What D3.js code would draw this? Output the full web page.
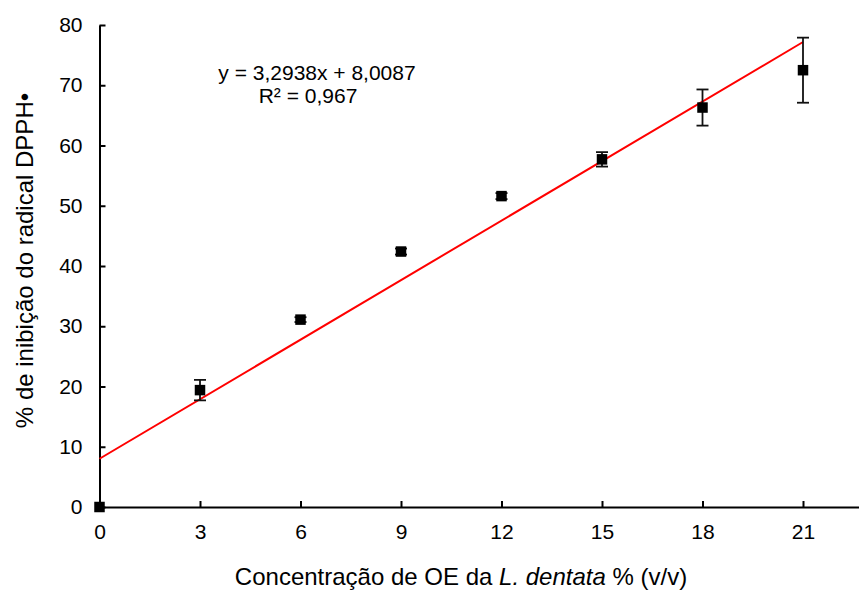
<!DOCTYPE html>
<html>
<head>
<meta charset="utf-8">
<script src="https://cdn.jsdelivr.net/npm/d3@7"></script>
<style>
  html, body { margin: 0; padding: 0; background: #fff; }
  svg { display: block; font-family: "Liberation Sans", Arial, sans-serif; }
</style>
</head>
<body>
<svg id="chart" width="859" height="590"></svg>
<script>
// Concentration of essential oil (% v/v)
const concentrations = [0, 3, 6, 9, 12, 15, 18, 21];
// Mean DPPH radical inhibition (%)
const inhibition = [0, 19.4, 31.1, 42.4, 51.6, 57.7, 66.3, 72.5];
// Standard deviation of each mean
const deviation = [0, 1.7, 0.4, 0.5, 0.5, 1.2, 3.0, 5.4];

const xTicks = [0, 3, 6, 9, 12, 15, 18, 21];
const yTicks = [0, 10, 20, 30, 40, 50, 60, 70, 80];

// Linear regression shown on the chart
const slope = 3.2938;
const intercept = 8.0087;
const equationLabel = "y = 3,2938x + 8,0087";
const r2Label = "R² = 0,967";

const svg = d3.select("#chart");
const font = "Liberation Sans, Arial, sans-serif";

const x = d3.scaleLinear().domain([0, 24]).range([99.5, 903.5]);
const y = d3.scaleLinear().domain([0, 80]).range([507, 25]);

// Y axis
const yAxis = svg.append("g")
  .attr("transform", `translate(${x(0)},0)`)
  .call(d3.axisLeft(y).tickValues(yTicks).tickSizeInner(-6).tickSizeOuter(0).tickPadding(17));
yAxis.select(".domain").attr("stroke", "#000").attr("stroke-width", 2);
yAxis.selectAll(".tick line").attr("stroke", "#000").attr("stroke-width", 2);
yAxis.selectAll(".tick text").attr("font-size", 21).attr("fill", "#000").attr("font-family", font);

// X axis
const xAxis = svg.append("g")
  .attr("transform", `translate(0,${y(0)})`)
  .call(d3.axisBottom(x).tickValues(xTicks).tickSizeInner(-6).tickSizeOuter(0).tickPadding(17));
xAxis.select(".domain").attr("stroke", "#000").attr("stroke-width", 2);
xAxis.selectAll(".tick line").attr("stroke", "#000").attr("stroke-width", 2);
xAxis.selectAll(".tick text").attr("font-size", 21).attr("fill", "#000").attr("font-family", font);

// Trend line
const xStart = d3.min(concentrations), xEnd = d3.max(concentrations);
svg.append("line")
  .attr("x1", x(xStart)).attr("y1", y(intercept + slope * xStart))
  .attr("x2", x(xEnd)).attr("y2", y(intercept + slope * xEnd))
  .attr("stroke", "#ff0000").attr("stroke-width", 2);

// Error bars
const points = concentrations.map((c, i) => ({ c, v: inhibition[i], sd: deviation[i] }));
const bars = svg.append("g").attr("stroke", "#111").attr("stroke-width", 1.8);
points.filter(d => d.sd > 0).forEach(d => {
  bars.append("line")
    .attr("x1", x(d.c)).attr("x2", x(d.c))
    .attr("y1", y(d.v - d.sd)).attr("y2", y(d.v + d.sd));
  [d.v - d.sd, d.v + d.sd].forEach(e => {
    bars.append("line")
      .attr("x1", x(d.c) - 6).attr("x2", x(d.c) + 6)
      .attr("y1", y(e)).attr("y2", y(e));
  });
});

// Square markers
const size = 10.5;
svg.append("g").selectAll("rect").data(points).join("rect")
  .attr("x", d => x(d.c) - size / 2)
  .attr("y", d => y(d.v) - size / 2)
  .attr("width", size).attr("height", size)
  .attr("fill", "#000");

// Regression equation
svg.append("text").attr("x", 317).attr("y", 80).attr("text-anchor", "middle")
  .attr("font-size", 21).attr("fill", "#000").text(equationLabel);
svg.append("text").attr("x", 308).attr("y", 103).attr("text-anchor", "middle")
  .attr("font-size", 21).attr("fill", "#000").text(r2Label);

// Axis titles
const xTitle = svg.append("text").attr("x", 461).attr("y", 584.5)
  .attr("text-anchor", "middle").attr("font-size", 24).attr("fill", "#000");
xTitle.append("tspan").text("Concentração de OE da ");
xTitle.append("tspan").attr("font-style", "italic").text("L. dentata");
xTitle.append("tspan").text(" % (v/v)");

svg.append("text")
  .attr("transform", "translate(33,260.5) rotate(-90)")
  .attr("text-anchor", "middle").attr("font-size", 24).attr("fill", "#000")
  .text("% de inibição do radical DPPH•");
</script>
</body>
</html>
